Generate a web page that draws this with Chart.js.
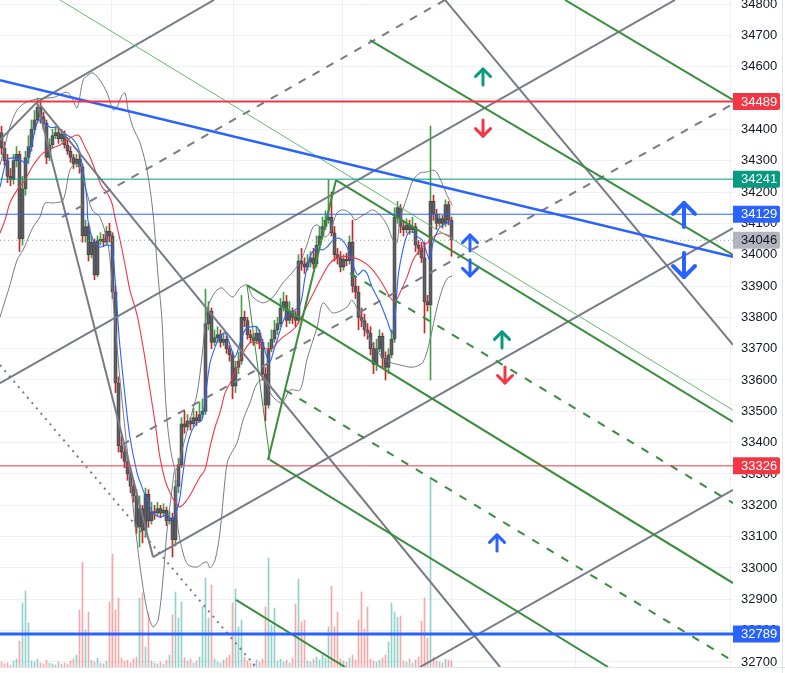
<!DOCTYPE html>
<html>
<head>
<meta charset="utf-8">
<title>Futures 5m</title>
<script src="https://cdn.jsdelivr.net/npm/chart.js@4.4.1/dist/chart.umd.min.js"></script>
<style>
  html, body { margin: 0; padding: 0; background: #ffffff; }
  #box { width: 785px; height: 673px; position: relative; }
</style>
</head>
<body>
<div id="box"><canvas id="chart"></canvas></div>
<script>
// right price scale
const priceTicks = [32700, 32800, 32900, 33000, 33100, 33200, 33300, 33400, 33500, 33600, 33700,
  33800, 33900, 34000, 34100, 34200, 34300, 34400, 34500, 34600, 34700, 34800];

// candles, one per bar index
const opens = [
  34390, 34340, 34300, 34250, 34240, 34300, 34320, 34050, 34210, 34310,
  34345, 34400, 34430, 34470, 34440, 34420, 34310, 34350, 34380, 34390,
  34370, 34385, 34350, 34330, 34310, 34290, 34305, 34280, 34060, 34090,
  34000, 34040, 33935, 34045, 34050, 34040, 34075, 34060, 33880, 33590,
  33390, 33370, 33340, 33300, 33260, 33230, 33130, 33190, 33120, 33235,
  33150, 33180, 33175, 33190, 33175, 33185, 33150, 33160, 33090, 33260,
  33330, 33460, 33450, 33470, 33460, 33480, 33470, 33490, 33500, 33780,
  33820, 33720, 33735, 33745, 33720, 33730, 33700, 33680, 33580, 33640,
  33660, 33800, 33790, 33745, 33735, 33725, 33750, 33720, 33620, 33520,
  33700, 33730, 33760, 33780, 33830, 33850, 33790, 33820, 33800, 33790,
  33980, 33970, 33960, 33975, 33990, 33970, 34030, 34060, 34090, 34110,
  34120, 34070, 34000, 33990, 33960, 33985, 33980, 34040, 33900, 33880,
  33800, 33790, 33760, 33750, 33700, 33650, 33700, 33740, 33670, 33640,
  33680, 33730, 34120, 34150, 34090, 34080, 34095, 34080, 34090, 34030,
  34020, 33990, 33850, 33840, 34170, 34130, 34100, 34115, 34100, 34160,
  34110
];
const highs = [
  34410, 34360, 34320, 34275, 34320, 34345, 34330, 34250, 34330, 34380,
  34430, 34460, 34500, 34490, 34455, 34430, 34370, 34400, 34410, 34400,
  34400, 34395, 34365, 34345, 34320, 34320, 34330, 34290, 34110, 34100,
  34060, 34050, 34060, 34070, 34065, 34090, 34100, 34070, 33900, 33610,
  33420, 33390, 33360, 33320, 33280, 33250, 33230, 33200, 33255, 33250,
  33210, 33200, 33210, 33200, 33205, 33195, 33180, 33175, 33280, 33350,
  33480, 33500, 33490, 33480, 33510, 33500, 33530, 33540, 33890, 33850,
  33830, 33760, 33770, 33760, 33750, 33740, 33710, 33690, 33660, 33690,
  33870, 33820, 33800, 33760, 33750, 33770, 33760, 33730, 33640, 33720,
  33760, 33790, 33800, 33860, 33880, 33870, 33850, 33830, 33820, 34000,
  34020, 33990, 34000, 34010, 34020, 34060, 34090, 34120, 34140, 34240,
  34200, 34090, 34020, 34010, 34000, 34005, 34060, 34110, 33930, 33900,
  33830, 33810, 33780, 33770, 33720, 33730, 33760, 33750, 33690, 33700,
  33760, 34150, 34170, 34160, 34110, 34115, 34110, 34120, 34100, 34045,
  34040, 34040, 33870, 34410, 34190, 34145, 34130, 34125, 34175, 34170,
  34120
];
const lows = [
  34320, 34285, 34230, 34220, 34225, 34280, 34010, 34030, 34190, 34290,
  34330, 34385, 34420, 34420, 34400, 34290, 34300, 34340, 34370, 34355,
  34360, 34340, 34320, 34295, 34275, 34280, 34260, 34040, 34040, 33980,
  33990, 33920, 33930, 34030, 34025, 34030, 34040, 33860, 33560, 33370,
  33350, 33320, 33280, 33240, 33210, 33110, 33067, 33080, 33100, 33130,
  33140, 33155, 33165, 33160, 33165, 33135, 33140, 33035, 33070, 33240,
  33320, 33430, 33440, 33440, 33450, 33455, 33465, 33480, 33490, 33760,
  33700, 33710, 33720, 33705, 33710, 33685, 33660, 33540, 33560, 33620,
  33650, 33770, 33730, 33720, 33710, 33715, 33700, 33600, 33470, 33510,
  33690, 33720, 33745, 33770, 33820, 33770, 33780, 33780, 33770, 33780,
  33950, 33940, 33950, 33960, 33955, 33960, 34020, 34050, 34080, 34100,
  34060, 33980, 33970, 33945, 33950, 33965, 33970, 33880, 33860, 33760,
  33770, 33740, 33730, 33680, 33620, 33630, 33690, 33640, 33600, 33620,
  33670, 33720, 34100, 34070, 34060, 34070, 34065, 34070, 34010, 34000,
  33975, 33750, 33820, 33600, 34110, 34080, 34090, 34085, 34090, 34095,
  33995
];
const closes = [
  34340, 34300, 34250, 34240, 34300, 34320, 34050, 34210, 34310, 34345,
  34400, 34430, 34470, 34440, 34420, 34310, 34350, 34380, 34390, 34370,
  34385, 34350, 34330, 34310, 34290, 34305, 34280, 34060, 34090, 34000,
  34040, 33935, 34045, 34050, 34040, 34075, 34060, 33880, 33590, 33390,
  33370, 33340, 33300, 33260, 33230, 33130, 33190, 33120, 33235, 33150,
  33180, 33175, 33190, 33175, 33185, 33150, 33160, 33090, 33260, 33330,
  33460, 33450, 33470, 33460, 33480, 33470, 33490, 33500, 33780, 33820,
  33720, 33735, 33745, 33720, 33730, 33700, 33680, 33580, 33640, 33660,
  33800, 33790, 33745, 33735, 33725, 33750, 33720, 33620, 33520, 33700,
  33730, 33760, 33780, 33830, 33850, 33790, 33820, 33800, 33790, 33980,
  33970, 33960, 33975, 33990, 33970, 34030, 34060, 34090, 34110, 34120,
  34070, 34000, 33990, 33960, 33985, 33980, 34040, 33900, 33880, 33800,
  33790, 33760, 33750, 33700, 33650, 33700, 33740, 33670, 33640, 33680,
  33730, 34120, 34150, 34090, 34080, 34095, 34080, 34090, 34030, 34020,
  33990, 33850, 33840, 34170, 34130, 34100, 34115, 34100, 34160, 34110,
  34046
];
const volumes = [
  5, 3, 4, 2, 6, 8, 26, 64, 76, 44,
  6, 5, 8, 4, 3, 7, 4, 3, 2, 5,
  3, 4, 3, 6, 8, 12, 57, 105, 37, 55,
  7, 5, 9, 4, 3, 6, 65, 113, 57, 69,
  9, 6, 7, 4, 8, 10, 69, 74, 20, 54,
  6, 4, 3, 5, 3, 7, 12, 52, 75, 49,
  65, 9, 6, 8, 4, 6, 10, 60, 89, 49,
  82, 8, 5, 4, 7, 9, 12, 64, 78, 40,
  47, 10, 6, 4, 3, 7, 5, 8, 60, 109,
  42, 59, 6, 8, 5, 7, 4, 9, 63, 88,
  45, 47, 6, 5, 8, 10, 7, 12, 9, 40,
  81, 40, 55, 8, 6, 5, 9, 12, 7, 47,
  75, 38, 60, 8, 6, 5, 7, 9, 12, 25,
  64, 55, 50, 51, 6, 5, 8, 4, 7, 10,
  46, 69, 29, 190, 10, 6, 5, 4, 8, 7,
  6
];

// indicators (bar index, price)
const fastMaX = [-0.5, 1.8, 3.8, 6.2, 8.5, 10.2, 11.8, 12.8, 13.8, 16.2, 18.8, 21.8, 23.5, 25.5, 27.2, 28.5, 28.8,
  30.5, 32.8, 35.2, 36.8, 37.8, 38.8, 39.5, 41.2, 42.8, 45.2, 46.8, 48.5, 50.5, 52.8, 55.2, 56.8, 58.5, 59.5,
  60.5, 61.8, 63.5, 65.2, 66.8, 67.8, 69.5, 71.2, 72.8, 74.5, 76.2, 77.8, 79.5, 81.2, 82.8, 85.2, 86.8, 88.5,
  89.5, 90.5, 92.2, 94.5, 96.8, 99.5, 101.2, 102.8, 105.2, 106.8, 108.5, 110.5, 112.2, 113.5, 115.2, 116.8,
  117.8, 118.8, 120.5, 121.8, 123.5, 125.2, 126.8, 128.5, 130.2, 131.2, 132.2, 133.8, 135.5, 137.2, 138.8,
  140.2, 141.8, 142.8, 143.8, 145.5, 147.2, 149.5, 150.5];
const fastMaY = [34216, 34302, 34309, 34302, 34293, 34356, 34420, 34430, 34423, 34407, 34404, 34382, 34372, 34344, 34270, 34174, 34111,
  34047, 34024, 34031, 34024, 33929, 33791, 33705, 33546, 33418, 33303, 33259, 33217, 33176, 33163, 33169, 33153, 33185, 33227,
  33303, 33386, 33440, 33463, 33472, 33536, 33654, 33705, 33737, 33750, 33712, 33673, 33718, 33760, 33769, 33769, 33728, 33673,
  33657, 33686, 33737, 33801, 33817, 33839, 33929, 33993, 34021, 34015, 34024, 34047, 34053, 34047, 34024, 33983,
  33951, 33935, 33951, 33941, 33897, 33865, 33833, 33791, 33750, 33801, 33929, 34015, 34069, 34072, 34056,
  34047, 34005, 33983, 34037, 34079, 34095, 34104, 34101];

const slowMaX = [-0.5, 1.2, 2.8, 5.2, 7.8, 10.2, 11.8, 13.8, 15.5, 17.8, 19.5, 21.8, 23.5, 25.2, 26.2, 27.8, 29.5,
  31.2, 33.5, 35.2, 36.8, 37.8, 39.5, 41.2, 42.8, 45.2, 47.2, 49.5, 51.2, 52.8, 54.5, 56.2, 57.8, 59.5, 61.8,
  63.8, 66.2, 67.8, 69.5, 71.2, 72.8, 74.5, 76.2, 78.5, 80.5, 82.8, 85.2, 87.2, 89.5, 91.8, 93.8, 96.2, 98.5,
  102.8, 106.2, 109.5, 112.8, 116.2, 119.5, 122.8, 126.2, 129.5, 131.2, 132.8, 135.2, 137.2, 139.5, 141.8,
  143.8, 146.2, 148.5, 150.2];
const slowMaY = [34069, 34111, 34165, 34206, 34238, 34280, 34302, 34324, 34334, 34344, 34350, 34366, 34376, 34382, 34376, 34344, 34312,
  34270, 34216, 34197, 34165, 34120, 34047, 33967, 33887, 33807, 33705, 33568, 33463, 33354, 33281, 33239, 33211, 33195, 33217,
  33249, 33291, 33313, 33386, 33450, 33495, 33558, 33590, 33641, 33686, 33718, 33718, 33705, 33696, 33718, 33737, 33753, 33775,
  33855, 33919, 33973, 33993, 33993, 33983, 33961, 33919, 33865, 33849, 33878, 33929, 33983, 34015, 34037,
  34056, 34069, 34063, 34056];

const bandUpX = [-0.5, 1.2, 2.8, 5.2, 7.8, 11.8, 15.2, 17.8, 21.8, 23.5, 25.2, 27.2, 28.8, 30.5, 32.8, 35.2, 37.2,
  38.5, 40.2, 41.2, 42.2, 43.8, 46.2, 48.5, 50.5, 52.2, 53.5, 54.5, 55.5, 56.8, 58.2, 60.2, 62.8, 65.2, 66.8,
  68.5, 70.2, 71.8, 73.5, 75.2, 77.2, 79.5, 81.8, 83.8, 87.2, 90.5, 93.8, 96.2, 99.5, 101.8, 103.8, 105.2,
  106.2, 107.8, 109.5, 111.8, 113.8, 116.2, 117.8, 119.5, 121.8, 123.8, 126.8, 128.8, 130.5, 131.8, 132.8,
  135.2, 137.2, 139.5, 141.8, 143.8, 145.2, 146.8, 148.5, 150.2];
const bandUpY = [34286, 34350, 34407, 34462, 34484, 34497, 34500, 34503, 34519, 34500, 34468, 34557, 34573, 34580, 34557, 34516, 34462,
  34471, 34510, 34516, 34462, 34407, 34356, 34270, 34133, 33929, 33791, 33568, 33440, 33354, 33313, 33377, 33472, 33558, 33673,
  33823, 33865, 33887, 33894, 33878, 33865, 33894, 33903, 33865, 33846, 33865, 33910, 33935, 33977, 34031, 34088, 34095,
  34088, 34056, 34072, 34133, 34143, 34133, 34111, 34120, 34133, 34143, 34120, 34088, 34047, 34037, 34111,
  34184, 34238, 34261, 34264, 34270, 34261, 34229, 34190, 34158];

const bandLowX = [-0.5, 2.8, 5.2, 7.2, 10.5, 12.8, 14.5, 17.2, 20.5, 22.8, 25.2, 26.8, 28.5, 30.2, 32.8, 35.2, 36.2,
  37.2, 39.5, 41.8, 43.8, 46.2, 48.5, 50.5, 52.2, 53.8, 55.2, 56.8, 57.8, 58.8, 60.5, 62.2, 65.2, 67.2, 68.5,
  69.5, 71.2, 72.8, 74.5, 75.5, 78.5, 80.5, 82.8, 85.2, 87.2, 90.5, 93.5, 96.2, 99.5, 101.8, 105.2, 107.2,
  110.5, 115.2, 116.8, 119.5, 122.8, 126.2, 129.5, 132.8, 137.2, 140.5, 142.8, 145.2, 147.2, 148.8, 150.2];
const bandLowY = [33801, 33903, 33983, 34015, 34088, 34120, 34165, 34165, 34174, 34270, 34293, 34254, 34197, 34143, 34120, 34047, 33983,
  33855, 33600, 33386, 33201, 33003, 32866, 32812, 32834, 32962, 33121, 33249, 33313, 33131, 33048, 33010, 33003, 33016, 33019,
  33000, 33026, 33112, 33281, 33345, 33399, 33472, 33527, 33590, 33600, 33546, 33527, 33568, 33568, 33664, 33769, 33846,
  33814, 33833, 33855, 33807, 33728, 33680, 33657, 33648, 33641, 33657, 33728, 33833, 33897, 33926, 33932];

// horizontal levels and the last price
const levels = [34489, 34241, 34129, 33326, 32789];
const lastPrice = 34046;
const tagValues = [34489, 34241, 34129, 34046, 33326, 32789];

// drawings, anchors as [bar1, price1, bar2, price2]
const grayTrend = [
  [-0.5, 34366, 11.83, 34487], [11.83, 34487, 70.83, 34813], [11.83, 34487, 50.5, 33035],
  [12.83, 34478, 166.17, 32684], [-0.5, 33590, 224.5, 34813], [50.5, 33035, 243.83, 34085],
  [139.5, 32684, 243.83, 33249], [147.83, 34813, 243.83, 33712]
];
const grayDashed = [[20.17, 34120, 147.83, 34813], [40.17, 33393, 243.83, 34481]];
const grayDotted = [[-0.5, 33648, 84.83, 32684]];
const greenSolid = [
  [187.83, 34813, 243.83, 34494], [122.83, 34685, 243.83, 33999], [111.5, 34238, 243.83, 33466],
  [81.83, 33903, 243.83, 32952], [89.5, 33345, 202.17, 32684], [78.17, 32898, 114.5, 32684],
  [88.83, 33345, 111.5, 34238]
];
const greenLink = [[81.83, 33903, 89.5, 33345]];
const greenDashed = [[116.17, 33941, 243.83, 33207], [94.5, 33568, 243.83, 32703]];
const greenThin = [[19.5, 34813, 243.83, 33504]];
const blueTrend = [[-0.5, 34557, 243.83, 33993]];

// arrow marks
const arrowX = [160.5, 160.5, 156.17, 156.17, 166.83, 167.83, 165.17, 227.5, 227.5];
const arrowY = [34567, 34404, 34037, 33958, 33728, 33616, 33080, 34127, 33967];
const arrowUp = [true, false, true, false, true, false, true, true, false];

const gridBars = [11.5, 61.83, 92.83, 134.5, 165.5, 217.17];

const X_MIN = -0.5, X_MAX = 243.83;
const Y_MIN = 32684, Y_MAX = 34812.8;

const TEAL = '#089981', RED = '#f23645', BLUE = '#2962ff', GRAY = '#787b86', GREEN = '#388e3c';
const FONT = "'Liberation Sans', Arial, sans-serif";

function seg(a) {
  return [{ x: a[0], y: a[1] }, { x: a[2], y: a[3] }];
}

function lineDs(points, color, width, dash, order, tension) {
  return {
    type: 'line',
    data: points,
    borderColor: color,
    borderWidth: width,
    borderDash: dash || [],
    pointRadius: 0,
    fill: false,
    tension: tension || 0,
    order: order
  };
}

function series(xs, ys) {
  return xs.map((x, i) => ({ x: x, y: ys[i] }));
}

const isUp = closes.map((c, i) => c >= opens[i]);

const datasets = [];

datasets.push({
  type: 'bar',
  yAxisID: 'vol',
  data: volumes.map((v, i) => ({ x: i, y: v })),
  backgroundColor: isUp.map(u => u ? 'rgba(38,166,154,0.5)' : 'rgba(239,83,80,0.5)'),
  barThickness: 1,
  grouped: false,
  order: 30
});
datasets.push({
  type: 'bar',
  data: highs.map((h, i) => ({ x: i, y: [lows[i], h] })),
  backgroundColor: isUp.map(u => u ? '#43a047' : '#c62828'),
  barThickness: 1,
  grouped: false,
  order: 29
});
datasets.push({
  type: 'bar',
  data: opens.map((o, i) => ({ x: i, y: [o, closes[i]] })),
  backgroundColor: '#5f5f64',
  borderColor: '#47474c',
  borderWidth: 1,
  borderSkipped: false,
  barThickness: 3.4,
  grouped: false,
  order: 28
});

// indicators
datasets.push(lineDs(series(bandUpX, bandUpY), GRAY, 1, null, 20, 0.3));
datasets.push(lineDs(series(bandLowX, bandLowY), GRAY, 1, null, 20, 0.3));
datasets.push(lineDs(series(slowMaX, slowMaY), RED, 1.1, null, 19, 0.3));
datasets.push(lineDs(series(fastMaX, fastMaY), BLUE, 1.1, null, 18, 0.3));

// drawings
grayTrend.forEach(a => datasets.push(lineDs(seg(a), GRAY, 2, null, 6)));
grayDashed.forEach(a => datasets.push(lineDs(seg(a), GRAY, 2, [8, 8], 6)));
grayDotted.forEach(a => datasets.push(lineDs(seg(a), GRAY, 2, [2, 5], 6)));
greenSolid.forEach(a => datasets.push(lineDs(seg(a), GREEN, 2, null, 5)));
greenLink.forEach(a => datasets.push(lineDs(seg(a), GREEN, 1, null, 5)));
greenDashed.forEach(a => datasets.push(lineDs(seg(a), GREEN, 2, [8, 9], 5)));
greenThin.forEach(a => datasets.push(lineDs(seg(a), '#66bb6a', 1, null, 5)));
blueTrend.forEach(a => datasets.push(lineDs(seg(a), BLUE, 2.5, null, 4)));

const levelColors = [RED, TEAL, BLUE, RED, BLUE];
const levelWidths = [2, 1, 1, 1, 3];
levels.forEach((v, i) => {
  datasets.push(lineDs(seg([X_MIN, v, X_MAX, v]), levelColors[i], levelWidths[i], null, 3));
});
datasets.push(lineDs(seg([X_MIN, lastPrice, X_MAX, lastPrice]), '#9598a1', 1, [1, 3], 3));

const arrowPlugin = {
  id: 'arrows',
  afterDatasetsDraw(chart) {
    const ctx = chart.ctx, xs = chart.scales.x, ys = chart.scales.y;
    const colors = [TEAL, RED, BLUE, BLUE, TEAL, RED, BLUE, BLUE, BLUE];
    arrowX.forEach((ax, i) => {
      const big = i >= 7;
      const h = big ? 24 : 16, w = big ? 22 : 15;
      const x = xs.getPixelForValue(ax), y = ys.getPixelForValue(arrowY[i]);
      const dir = arrowUp[i] ? -1 : 1;
      const tipY = y + dir * h / 2;
      ctx.save();
      ctx.strokeStyle = colors[i];
      ctx.lineWidth = big ? 4 : 3;
      ctx.lineCap = 'round';
      ctx.lineJoin = 'round';
      ctx.beginPath();
      ctx.moveTo(x, y - dir * h / 2);
      ctx.lineTo(x, tipY);
      ctx.stroke();
      ctx.beginPath();
      ctx.moveTo(x - w / 2, tipY - dir * w / 2);
      ctx.lineTo(x, tipY);
      ctx.lineTo(x + w / 2, tipY - dir * w / 2);
      ctx.stroke();
      ctx.restore();
    });
  }
};

const tagPlugin = {
  id: 'tags',
  afterDraw(chart) {
    const ctx = chart.ctx, ys = chart.scales.y, area = chart.chartArea;
    const bg = [RED, TEAL, BLUE, '#b2b5be', RED, BLUE];
    const fg = ['#fff', '#fff', '#fff', '#131722', '#fff', '#fff'];
    ctx.save();
    // frame lines
    ctx.strokeStyle = '#e0e3eb';
    ctx.lineWidth = 1;
    ctx.beginPath();
    ctx.moveTo(0, area.bottom + 0.5);
    ctx.lineTo(785, area.bottom + 0.5);
    ctx.moveTo(782.5, 0);
    ctx.lineTo(782.5, 673);
    ctx.stroke();
    ctx.font = '13px ' + FONT;
    ctx.textBaseline = 'middle';
    ctx.textAlign = 'left';
    tagValues.forEach((v, i) => {
      const y = ys.getPixelForValue(v);
      ctx.fillStyle = bg[i];
      ctx.beginPath();
      if (ctx.roundRect) ctx.roundRect(area.right, y - 8.5, 47, 17, [0, 2, 2, 0]);
      else ctx.rect(area.right, y - 8.5, 47, 17);
      ctx.fill();
      ctx.fillStyle = fg[i];
      ctx.fillText(String(v), area.right + 8, y + 0.5);
    });
    ctx.restore();
  }
};

new Chart(document.getElementById('chart'), {
  type: 'line',
  data: { datasets: datasets },
  options: {
    responsive: true,
    maintainAspectRatio: false,
    animation: false,
    events: [],
    layout: { padding: { top: 0, left: 0, right: 0, bottom: 6 } },
    plugins: { legend: { display: false }, tooltip: { enabled: false } },
    scales: {
      x: {
        type: 'linear',
        min: X_MIN,
        max: X_MAX,
        offset: false,
        ticks: { display: false },
        grid: { color: '#eef0f4', drawTicks: false },
        border: { display: false },
        afterBuildTicks: s => { s.ticks = gridBars.map(v => ({ value: v })); },
        afterFit: s => { s.height = 0; }
      },
      y: {
        type: 'linear',
        position: 'right',
        min: Y_MIN,
        max: Y_MAX,
        ticks: {
          color: '#131722',
          padding: 8,
          font: { family: FONT, size: 13 },
          callback: v => String(v)
        },
        grid: { color: '#eef0f4', drawTicks: false },
        border: { display: false },
        afterBuildTicks: s => { s.ticks = priceTicks.map(v => ({ value: v })); },
        afterFit: s => { s.width = 52; s.paddingTop = 0; s.paddingBottom = 0; }
      },
      vol: {
        type: 'linear',
        display: false,
        min: 0,
        max: 667
      }
    }
  },
  plugins: [arrowPlugin, tagPlugin]
});
</script>
</body>
</html>
